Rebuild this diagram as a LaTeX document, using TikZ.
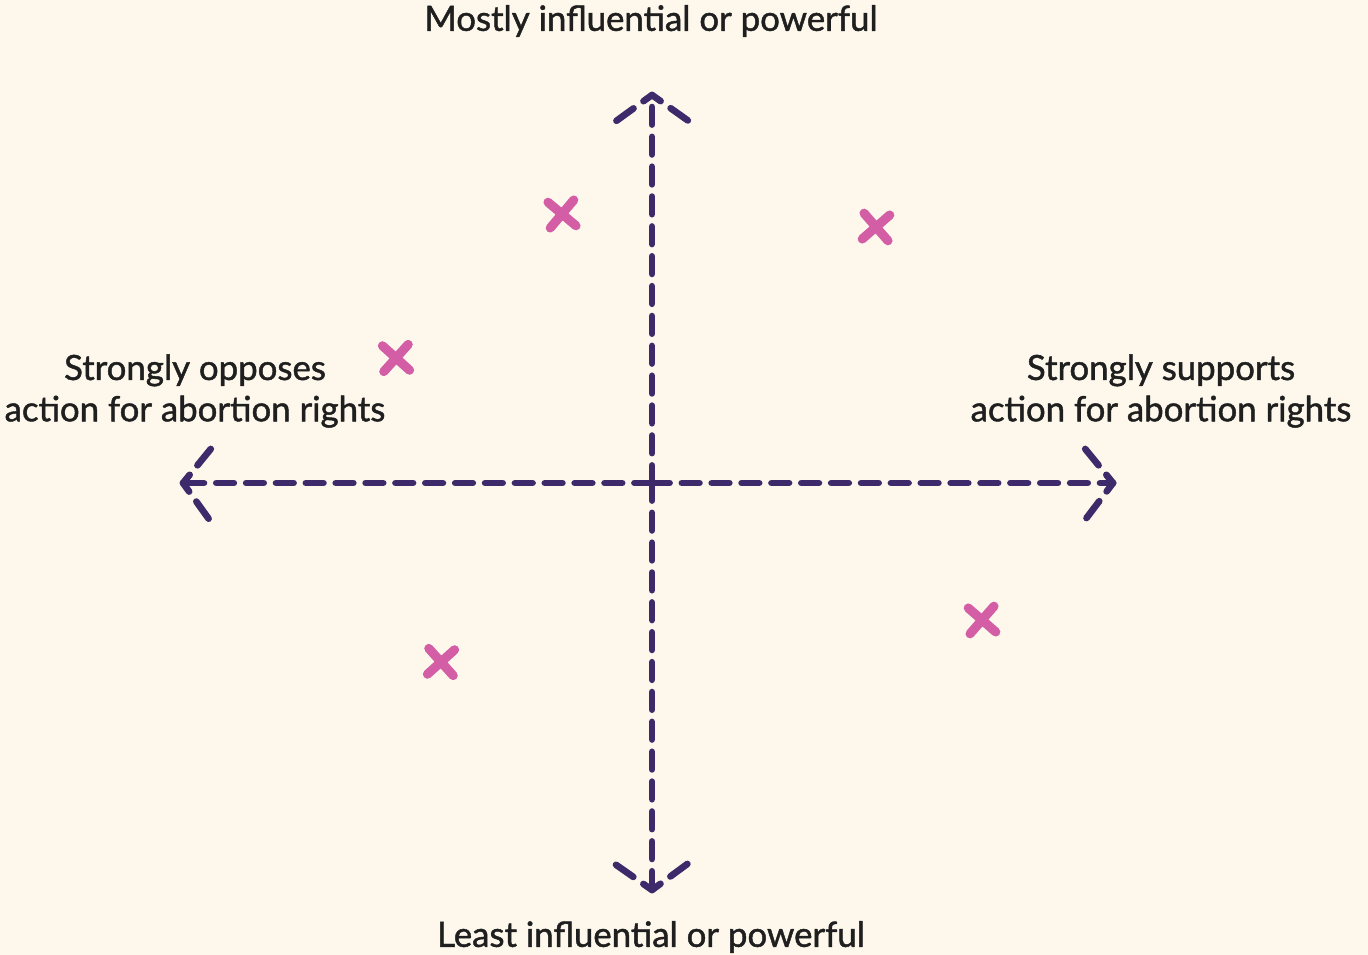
\documentclass[tikz,border=0pt]{standalone}
\usepackage{fontspec}
\setmainfont{Lato}[FakeBold=1.3]
\usepackage{tikz}
\usetikzlibrary{shapes.misc}
\definecolor{paper}{HTML}{FDF8EB}
\definecolor{axisink}{HTML}{3E2A6A}
\definecolor{markpink}{HTML}{D45EA6}
\tikzset{
    axisline/.style={draw=axisink, line width=3.8pt, line cap=round, dash pattern=on 10pt off 7pt},
    headline/.style={draw=axisink, line width=3.8pt, line cap=round, dash pattern=on 6pt off 7pt on 12pt off 30pt},
    pointmark/.style={cross out, draw=markpink, line width=5.2pt, line cap=round, minimum size=9.5pt, inner sep=0pt},
    axislabel/.style={font=\fontsize{19.8}{23.5}\selectfont, text=black!88, align=center},
}
\begin{document}
\begin{tikzpicture}[x=0.02cm, y=-0.02cm]
                 \fill[paper] (0,0) rectangle (1368,955);
                 \useasboundingbox (0,0) rectangle (1368,955);
                 % axes
                 \coordinate (O) at (652,483);
                 \coordinate (top) at (652,95);
                 \coordinate (bottom) at (652,890);
                 \coordinate (left) at (183,483);
                 \coordinate (right) at (1113,483);
                 \draw[axisline] (O)--(top);
                 \draw[axisline] (O)--(bottom);
                 \draw[axisline] (O)--(left);
                 \draw[axisline] (O)--(right);
                 % arrow heads
                 \coordinate (top l) at (612,124);
                 \coordinate (top r) at (690,122);
                 \coordinate (bottom l) at (612,862);
                 \coordinate (bottom r) at (690,862);
                 \coordinate (left u) at (214,445);
                 \coordinate (left d) at (211,522);
                 \coordinate (right u) at (1082,445);
                 \coordinate (right d) at (1085,520);
                 \foreach \tip/\arm in {top/top l, top/top r, bottom/bottom l, bottom/bottom r,
                                        left/left u, left/left d, right/right u, right/right d}
                     \draw[headline] (\tip)--(\arm);
                 % points
                 \node[pointmark, rotate=5] (p1) at (562,214) {};
                 \node[pointmark, rotate=-4] (p2) at (876,227) {};
                 \node[pointmark, rotate=3] (p3) at (396,358) {};
                 \node[pointmark, rotate=-3] (p4) at (441,662) {};
                 \node[pointmark, rotate=4] (p5) at (982,620) {};
                 % labels
                 \node[axislabel] (ltop) at (651,21) {Mostly influential or powerful};
                 \node[axislabel] (lbottom) at (651,937) {Least influential or powerful};
                 \node[axislabel] (lleft) at (195,391) {Strongly opposes\\action for abortion rights};
                 \node[axislabel] (lright) at (1161,391) {Strongly supports\\action for abortion rights};
             \end{tikzpicture}
\end{document}
